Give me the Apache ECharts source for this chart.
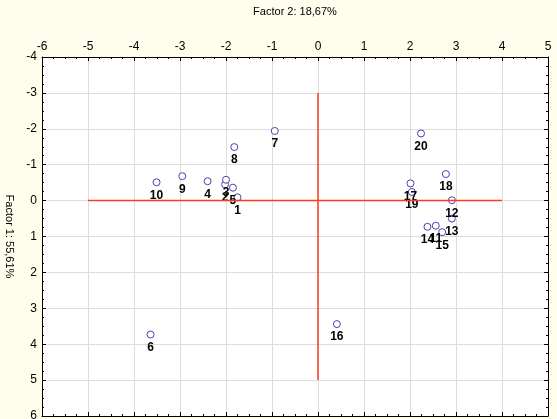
<!DOCTYPE html>
<html>
<head>
<meta charset="utf-8">
<script src="https://cdn.jsdelivr.net/npm/echarts@6/dist/echarts.min.js"></script>
<style>
html,body{margin:0;padding:0;background:#fffdec;}
#c{width:557px;height:419px;}
</style>
</head>
<body>
<div id="c"></div>
<script>
// Case labels
var caseIds = ['1','2','3','4','5','6','7','8','9','10','11','12','13','14','15','16','17','18','19','20'];
// Factor 2 (horizontal axis) coordinates
var factor2 = [-1.75,-2.02,-2.00,-2.40,-1.85,-3.64,-0.94,-1.82,-2.95,-3.51,2.56,2.91,2.91,2.38,2.70,0.41,2.01,2.78,2.04,2.24];
// Factor 1 (vertical axis, inverted) coordinates
var factor1 = [-0.09,-0.45,-0.58,-0.54,-0.36,3.73,-1.94,-1.49,-0.68,-0.51,0.70,-0.01,0.50,0.73,0.88,3.44,-0.48,-0.74,-0.24,-1.87];
// Reference lines
var hLine = [[-5,0],[4,0]];
var vLine = [[0,-3],[0,5]];
// Axis ranges / ticks
var xMin = -6, xMax = 5, yMin = -4, yMax = 6, tickStep = 1;
var xTitle = 'Factor 2: 18,67%';
var yTitle = 'Factor 1: 55,61%';

var font = 'Liberation Sans, Arial, sans-serif';
var pts = caseIds.map(function(id,i){ return [factor2[i], factor1[i], id]; });

function xAx(pos, labels){
  return {
    type:'value', position:pos, min:xMin, max:xMax, interval:tickStep,
    axisLine:{show:true, onZero:false, lineStyle:{color:'#000', width:1}},
    axisTick:{show:true, inside:true, length:4, lineStyle:{color:'#000'}},
    minorTick:{show:true, splitNumber:4, length:2, lineStyle:{color:'#000'}},
    splitLine:{show:labels, lineStyle:{color:'#dcdcdc', width:1}},
    axisLabel:{show:labels, color:'#000', fontSize:12, fontFamily:font, margin:4},
    name: labels ? xTitle : '', nameLocation:'middle', nameGap:40,
    nameTextStyle:{color:'#000', fontSize:11, fontFamily:font}
  };
}
function yAx(pos, labels){
  return {
    type:'value', position:pos, inverse:true, min:yMin, max:yMax, interval:tickStep,
    axisLine:{show:true, onZero:false, lineStyle:{color:'#000', width:1}},
    axisTick:{show:true, inside:true, length:4, lineStyle:{color:'#000'}},
    minorTick:{show:true, splitNumber:4, length:2, lineStyle:{color:'#000'}},
    splitLine:{show:labels, lineStyle:{color:'#dcdcdc', width:1}},
    axisLabel:{show:labels, color:'#000', fontSize:12, fontFamily:font, margin:5},
    name: labels ? yTitle : '', nameLocation:'middle', nameGap:27, nameRotate:-90,
    nameTextStyle:{color:'#000', fontSize:11, fontFamily:font}
  };
}

var chart = echarts.init(document.getElementById('c'), null, {renderer:'canvas'});
chart.setOption({
  backgroundColor:'#fffdec',
  animation:false,
  grid:{left:42, right:9, top:57, bottom:3, show:true, backgroundColor:'#ffffff', borderWidth:0,
        containLabel:false, outerBoundsMode:'none'},
  xAxis:[xAx('top', true), xAx('bottom', false)],
  yAxis:[yAx('left', true), yAx('right', false)],
  series:[
    {type:'line', data:hLine, xAxisIndex:0, yAxisIndex:0, symbol:'none', silent:true,
     lineStyle:{color:'#ff3b1c', width:1.5}},
    {type:'line', data:vLine, xAxisIndex:0, yAxisIndex:0, symbol:'none', silent:true,
     lineStyle:{color:'#ff3b1c', width:1.5}},
    {type:'scatter', data:pts, xAxisIndex:0, yAxisIndex:0, symbol:'circle', symbolSize:7,
     itemStyle:{color:'#ffffff', borderColor:'#4a40b0', borderWidth:1, opacity:1},
     label:{show:true, position:'bottom', distance:3, color:'#000', fontSize:12, fontWeight:'bold',
            fontFamily:font, formatter:function(p){return p.data[2];}},
     labelLayout:{hideOverlap:false}}
  ]
});
</script>
</body>
</html>
